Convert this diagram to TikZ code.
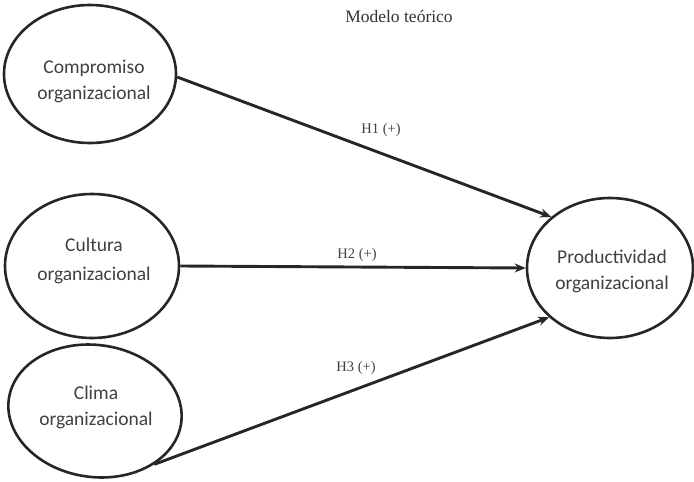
\documentclass[tikz,border=0pt]{standalone}
\usepackage{fontspec}
\setmainfont{Liberation Serif}
\newfontfamily\labelfont{Carlito}
\usetikzlibrary{arrows.meta,shapes.geometric}
\begin{document}
\begin{tikzpicture}[x=1pt,y=-1pt,
  construct/.style={draw=black!85,line width=2.6pt,ellipse,inner sep=0pt},
  ctext/.style={font=\labelfont\fontsize{19.5}{26}\selectfont,text=black!75,align=center},
  path arrow/.style={draw=black!85,line width=2.9pt,-{Stealth[length=11pt,width=9pt]}},
  hyp/.style={font=\fontsize{14.5}{17}\selectfont,text=black!75}]
\useasboundingbox (0,0) rectangle (694,482);

% latent constructs (outline nodes, with their captions set separately)
\node[construct,minimum width=172pt,minimum height=138pt] (comp) at (90,74) {};
\node[ctext] (comptext) at (94,81) {Compromiso\\organizacional};
\node[construct,minimum width=174pt,minimum height=144pt] (cult) at (92,266) {};
\node[ctext] (culttext) at (94,261) {Cultura\\[3pt]organizacional};
\node[construct,minimum width=174pt,minimum height=132pt,rotate=-8] (clim) at (95,411) {};
\node[ctext] (climtext) at (96,407) {Clima\\organizacional};
\node[construct,minimum width=166pt,minimum height=140pt] (prod) at (610,268) {};
\node[ctext] (prodtext) at (612,271) {Productividad\\organizacional};

% hypothesised paths
\draw[path arrow] (comp.-2) -- (prod.139);
\draw[path arrow] (cult.0) -- (prod.180);
\draw[path arrow] (clim.-34) -- (prod.-141);

\node[hyp] (h1) at (381,130) {H1 (+)};
\node[hyp] (h2) at (357,255) {H2 (+)};
\node[hyp] (h3) at (356,368) {H3 (+)};

\node[font=\fontsize{17.5}{20}\selectfont,text=black!80] (title) at (399,16) {Modelo teórico};
\end{tikzpicture}
\end{document}
